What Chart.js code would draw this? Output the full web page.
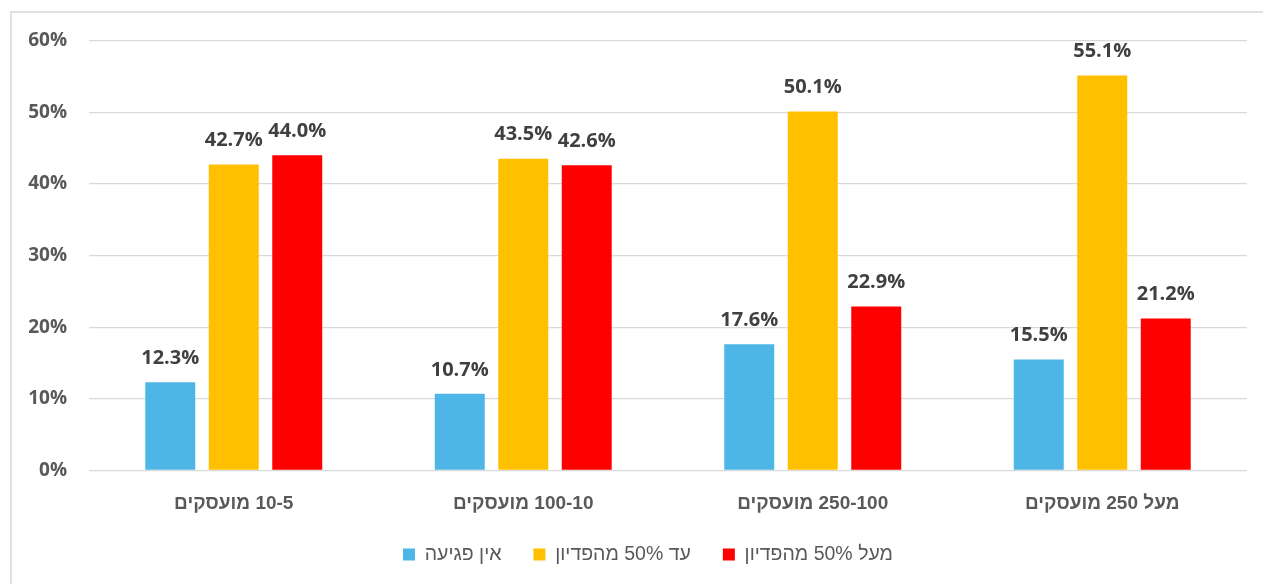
<!DOCTYPE html>
<html lang="he">
<head>
<meta charset="utf-8">
<title>פגיעה בפדיון לפי גודל עסק</title>
<script src="https://cdn.jsdelivr.net/npm/chart.js@4/dist/chart.umd.min.js"></script>
<style>
  html, body { margin: 0; padding: 0; background: #fff; overflow: hidden; }
  #frame {
    position: absolute; left: 10px; top: 11px;
    width: 1300px; height: 620px;
    border: 2px solid #e0e0e0; box-sizing: border-box;
  }
  #chart { position: absolute; left: 0; top: 0; direction: rtl; }
</style>
</head>
<body>
<div id="frame"></div>
<canvas id="chart" width="1263" height="584"></canvas>
<script>
  // נתונים מהתרשים
  const categories = ["10-5 מועסקים", "100-10 מועסקים", "250-100 מועסקים", "מעל 250 מועסקים"];
  const seriesNames = ["אין פגיעה", "עד 50% מהפדיון", "מעל 50% מהפדיון"];
  const noHarm = [12.3, 10.7, 17.6, 15.5];
  const upTo50 = [42.7, 43.5, 50.1, 55.1];
  const over50 = [44.0, 42.6, 22.9, 21.2];
  const yTicks = [0, 10, 20, 30, 40, 50, 60];

  const colors = ["#4db6e6", "#ffc000", "#ff0000"];
  const NUM_FONT = "'Open Sans', 'DejaVu Sans', sans-serif";
  const HEB_FONT = "'Liberation Sans', 'DejaVu Sans', sans-serif";

  // תוויות ערכים מעל העמודות
  const valueLabels = {
    id: "valueLabels",
    afterDatasetsDraw(chart) {
      const ctx = chart.ctx;
      ctx.save();
      ctx.font = "bold 20px " + NUM_FONT;
      ctx.fillStyle = "#404040";
      ctx.textAlign = "center";
      ctx.textBaseline = "middle";
      chart.data.datasets.forEach((ds, i) => {
        chart.getDatasetMeta(i).data.forEach((bar, j) => {
          ctx.fillText(ds.data[j].toFixed(1) + "%", bar.x, bar.y - 24);
        });
      });
      ctx.restore();
    },
  };

  // המקרא ממורכז על כל המסגרת ולא רק על אזור השרטוט
  const legendShift = {
    id: "legendShift",
    afterLayout(chart) {
      chart.legend.left += 24.5;
      chart.legend.right += 24.5;
    },
  };

  new Chart(document.getElementById("chart"), {
    type: "bar",
    data: {
      labels: categories,
      datasets: [noHarm, upTo50, over50].map((data, i) => ({
        label: seriesNames[i],
        data,
        backgroundColor: colors[i],
        categoryPercentage: 0.658,
        barPercentage: 0.787,
      })),
    },
    options: {
      responsive: false,
      animation: false,
      layout: { padding: { left: 0, right: 16, top: 40.5, bottom: 9.75 } },
      plugins: {
        legend: {
          position: "bottom",
          labels: {
            boxWidth: 12,
            boxHeight: 12,
            padding: 32,
            color: "#595959",
            font: { family: HEB_FONT, size: 19.5 },
          },
        },
        tooltip: { enabled: false },
      },
      scales: {
        x: {
          grid: { display: false, drawTicks: false },
          border: { display: false },
          ticks: {
            padding: 22,
            color: "#595959",
            font: { family: HEB_FONT, size: 19, weight: "bold" },
          },
          afterFit: (s) => { s.height = 42.25; },
        },
        y: {
          min: 0,
          max: 60,
          afterBuildTicks: (s) => { s.ticks = yTicks.map((v) => ({ value: v })); },
          grid: { color: "#d9d9d9", lineWidth: 1.3, drawTicks: false },
          border: { display: false },
          ticks: {
            padding: 22,
            color: "#595959",
            font: { family: NUM_FONT, size: 19, weight: "bold" },
            callback: (v) => v + "%",
          },
          afterFit: (s) => { s.width = 89; },
        },
      },
    },
    plugins: [valueLabels, legendShift],
  });
</script>
</body>
</html>
